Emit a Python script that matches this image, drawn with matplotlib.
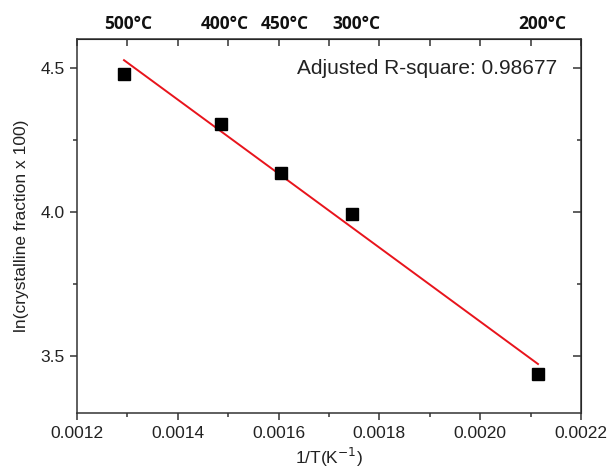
import matplotlib
matplotlib.use("Agg")
import matplotlib.pyplot as plt
import matplotlib.transforms as mtransforms
from matplotlib.ticker import MultipleLocator, FormatStrFormatter
import numpy as np

# data
inv_T = np.array([0.0012933, 0.0014857, 0.0016048, 0.0017456, 0.0021147])
ln_frac = np.array([4.4805, 4.3065, 4.136, 3.991, 3.4355])
temp_labels = ["500°C", "400°C", "450°C", "300°C", "200°C"]
r2_text = "Adjusted R-square: 0.98677"

plt.rcParams['font.family'] = ['Liberation Sans', 'DejaVu Sans']

fig = plt.figure(figsize=(6.12, 4.75), dpi=100)
ax = fig.add_axes([0.1258, 0.1305, 0.8235, 0.7868])

# linear fit
k, b = np.polyfit(inv_T, ln_frac, 1)
xf = np.array([inv_T[0], inv_T[-1]])
ax.plot(xf, k * xf + b, color='#e8141c', lw=1.4, zorder=2)
ax.plot(inv_T, ln_frac, 's', color='black', ms=8.4, zorder=3)

ax.set_xlim(0.0012, 0.0022)
ax.set_ylim(3.3, 4.6)
ax.xaxis.set_major_locator(MultipleLocator(0.0002))
ax.xaxis.set_minor_locator(MultipleLocator(0.0001))
ax.yaxis.set_major_locator(MultipleLocator(0.5))
ax.yaxis.set_minor_locator(MultipleLocator(0.25))
ax.xaxis.set_major_formatter(FormatStrFormatter('%.4f'))
ax.yaxis.set_major_formatter(FormatStrFormatter('%.1f'))

spine_c = '#333333'
for s in ax.spines.values():
    s.set_color(spine_c)
    s.set_linewidth(1.1)
ax.tick_params(which='major', direction='out', length=5, width=1.1, color=spine_c,
               labelsize=12.5, labelcolor='#222222', pad=4)
ax.tick_params(which='minor', direction='out', length=3, width=1.1, color=spine_c)

# mirrored ticks on top/right, pointing inward
top = ax.secondary_xaxis('top')
top.xaxis.set_major_locator(MultipleLocator(0.0001))
top.tick_params(direction='in', length=5, width=1.1, color=spine_c, labeltop=False)
right = ax.secondary_yaxis('right')
right.yaxis.set_major_locator(MultipleLocator(0.5))
right.yaxis.set_minor_locator(MultipleLocator(0.25))
right.tick_params(which='major', direction='in', length=6, width=1.1, color=spine_c, labelright=False)
right.tick_params(which='minor', direction='in', length=3, width=1.1, color=spine_c)

ax.set_xlabel('1/T(K$^{-1}$)', fontsize=12.5, color='#222222', labelpad=4)
ax.set_ylabel('ln(crystalline fraction x 100)', fontsize=12.5, color='#222222', labelpad=8)

trans = mtransforms.blended_transform_factory(ax.transData, ax.transAxes)
offset = mtransforms.ScaledTranslation(4 / 100, 0, fig.dpi_scale_trans)
for x, lab in zip(inv_T, temp_labels):
    ax.text(x, 1.04, lab, transform=trans + offset, ha='center', va='center',
            fontsize=12.5, fontweight='bold', family=['Open Sans', 'DejaVu Sans'],
            color='#111111')

ax.text(0.952, 0.923, r2_text, transform=ax.transAxes, ha='right', va='center',
        fontsize=15, color='#222222')

fig.savefig('out.png', dpi=100)
